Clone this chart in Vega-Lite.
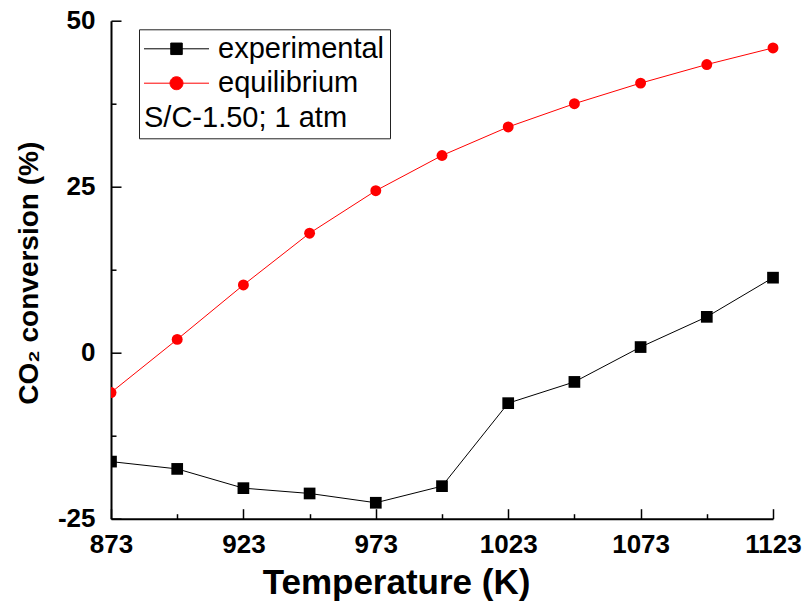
{
  "$schema": "https://vega.github.io/schema/vega-lite/v6.json",
  "width": 680,
  "height": 498,
  "autosize": "none",
  "padding": {"left": 111, "top": 20.7, "right": 16, "bottom": 87.3},
  "background": "white",
  "config": {
    "view": {"stroke": null},
    "font": "Liberation Sans"
  },
  "data": {
    "values": [
      {"T": 873, "conv": -16.4, "series": "experimental"},
      {"T": 898, "conv": -17.5, "series": "experimental"},
      {"T": 923, "conv": -20.4, "series": "experimental"},
      {"T": 948, "conv": -21.2, "series": "experimental"},
      {"T": 973, "conv": -22.6, "series": "experimental"},
      {"T": 998, "conv": -20.1, "series": "experimental"},
      {"T": 1023, "conv": -7.6, "series": "experimental"},
      {"T": 1048, "conv": -4.4, "series": "experimental"},
      {"T": 1073, "conv": 0.85, "series": "experimental"},
      {"T": 1098, "conv": 5.4, "series": "experimental"},
      {"T": 1123, "conv": 11.3, "series": "experimental"},
      {"T": 873, "conv": -6.0, "series": "equilibrium"},
      {"T": 898, "conv": 2.0, "series": "equilibrium"},
      {"T": 923, "conv": 10.2, "series": "equilibrium"},
      {"T": 948, "conv": 18.0, "series": "equilibrium"},
      {"T": 973, "conv": 24.4, "series": "equilibrium"},
      {"T": 998, "conv": 29.7, "series": "equilibrium"},
      {"T": 1023, "conv": 34.0, "series": "equilibrium"},
      {"T": 1048, "conv": 37.5, "series": "equilibrium"},
      {"T": 1073, "conv": 40.6, "series": "equilibrium"},
      {"T": 1098, "conv": 43.4, "series": "equilibrium"},
      {"T": 1123, "conv": 45.9, "series": "equilibrium"}
    ]
  },
  "encoding": {
    "x": {
      "field": "T", "type": "quantitative",
      "scale": {"domain": [873, 1123], "range": [0, 662], "nice": false, "zero": false}
    },
    "y": {
      "field": "conv", "type": "quantitative",
      "scale": {"domain": [-25, 50], "nice": false, "zero": false}
    },
    "color": {
      "field": "series", "type": "nominal",
      "scale": {"domain": ["experimental", "equilibrium"], "range": ["black", "#ff0000"]},
      "legend": {
        "orient": "none", "legendX": 28, "legendY": 8.6,
        "direction": "vertical",
        "title": "S/C-1.50; 1 atm",
        "titleOrient": "bottom", "titleAnchor": "start", "titleAlign": "left",
        "titleFont": "Liberation Sans", "titleFontSize": 29, "titleFontWeight": "normal", "titleColor": "black",
        "titlePadding": 6, "titleLimit": 400,
        "labelFont": "Liberation Sans", "labelFontSize": 29, "labelColor": "black", "labelLimit": 300,
        "labelOffset": 27,
        "symbolOffset": 18, "symbolSize": 100, "symbolStrokeWidth": 1, "symbolOpacity": 1,
        "rowPadding": 4.4, "padding": 5,
        "strokeColor": "#222", "fillColor": "white",
        "encode": {
          "symbols": {
            "update": {
              "shape": {"signal": "datum.value === 'experimental' ? 'M-6.5,0H6.5M-1.15,-1.15H1.15V1.15H-1.15Z' : 'M-6.5,0H6.5M1.3,0A1.3,1.3,0,1,1,-1.3,0A1.3,1.3,0,1,1,1.3,0Z'"},
              "size": {"value": 100},
              "strokeWidth": {"value": 1},
              "opacity": {"value": 1}
            }
          }
        }
      }
    }
  },
  "layer": [
    {
      "mark": {"type": "line", "strokeWidth": 1, "clip": true},
      "encoding": {
        "x": {
          "field": "T", "type": "quantitative",
          "axis": {
            "title": "Temperature (K)",
            "values": [873, 923, 973, 1023, 1073, 1123],
            "labelExpr": "'' + datum.value",
            "tickSize": -10,
            "labelPadding": 23,
            "labelBaseline": "top",
            "labelFlush": false,
            "labelFont": "Liberation Sans", "labelFontSize": 26, "labelFontWeight": "bold", "labelColor": "black",
            "titleFont": "Liberation Sans", "titleFontSize": 35, "titleFontWeight": "bold", "titleColor": "black",
            "titleX": 285, "titleY": 75, "titleBaseline": "alphabetic", "titleAlign": "center",
            "domainColor": "black", "domainWidth": 2, "tickColor": "black", "tickWidth": 1.5,
            "grid": false, "orient": "bottom"
          }
        },
        "y": {
          "field": "conv", "type": "quantitative",
          "axis": {
            "title": "CO₂ conversion (%)",
            "values": [-25, 0, 25, 50],
            "labelExpr": "datum.value < 0 ? '-' + abs(datum.value) : '' + datum.value",
            "tickSize": -10,
            "labelPadding": 26,
            "labelFlush": false,
            "labelFont": "Liberation Sans", "labelFontSize": 26, "labelFontWeight": "bold", "labelColor": "black",
            "titleFont": "Liberation Sans", "titleFontSize": 28, "titleFontWeight": "bold", "titleColor": "black",
            "titleX": -74, "titleY": 252, "titleAngle": -90, "titleBaseline": "alphabetic", "titleAlign": "center",
            "domainColor": "black", "domainWidth": 2, "tickColor": "black", "tickWidth": 1.5,
            "grid": false, "orient": "left"
          }
        }
      }
    },
    {
      "transform": [{"filter": "datum.series === 'experimental'"}],
      "mark": {"type": "point", "filled": true, "opacity": 1, "shape": "square", "size": 137, "clip": true},
      "encoding": {
        "x": {
          "field": "T", "type": "quantitative",
          "axis": {
            "values": [898, 948, 998, 1048, 1098],
            "labels": false, "title": null, "domain": false, "grid": false,
            "tickSize": -5, "tickColor": "black", "tickWidth": 1.5, "orient": "bottom"
          }
        },
        "y": {
          "field": "conv", "type": "quantitative",
          "axis": {
            "values": [-12.5, 12.5, 37.5],
            "labels": false, "title": null, "domain": false, "grid": false,
            "tickSize": -5, "tickColor": "black", "tickWidth": 1.5, "orient": "left"
          }
        }
      }
    },
    {
      "transform": [{"filter": "datum.series === 'equilibrium'"}],
      "mark": {"type": "point", "filled": true, "opacity": 1, "shape": "circle", "size": 119, "clip": true},
      "encoding": {
        "x": {"field": "T", "type": "quantitative", "axis": null},
        "y": {"field": "conv", "type": "quantitative", "axis": null}
      }
    }
  ],
  "resolve": {"axis": {"x": "independent", "y": "independent"}}
}
